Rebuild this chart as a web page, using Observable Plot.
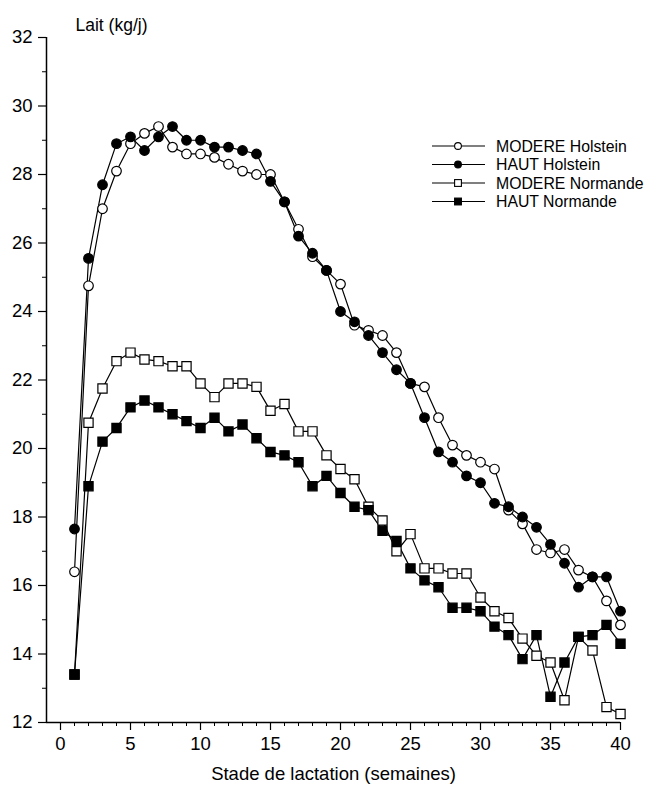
<!DOCTYPE html>
<html><head><meta charset="utf-8">
<script src="https://cdn.jsdelivr.net/npm/d3@7"></script>
<script src="https://cdn.jsdelivr.net/npm/@observablehq/plot@0.6"></script>
<style>
body{margin:0;background:#fff;}
#wrap{position:relative;width:663px;height:797px;font-family:"Liberation Sans",Arial,Helvetica,sans-serif;}
#legend{position:absolute;left:0;top:0;}
</style>
</head><body><div id="wrap"></div>
<script>
const weeks = [1,2,3,4,5,6,7,8,9,10,11,12,13,14,15,16,17,18,19,20,21,22,23,24,25,26,27,28,29,30,31,32,33,34,35,36,37,38,39,40];
const seriesNames = ["MODERE Holstein","HAUT Holstein","MODERE Normande","HAUT Normande"];
const moderHolstein = [16.4,24.75,27.0,28.1,28.9,29.2,29.4,28.8,28.6,28.6,28.5,28.3,28.1,28.0,28.0,27.2,26.4,25.6,25.2,24.8,23.6,23.45,23.3,22.8,21.9,21.8,20.9,20.1,19.8,19.6,19.4,18.2,17.8,17.05,16.95,17.05,16.45,16.25,15.55,14.85];
const hautHolstein = [17.65,25.55,27.7,28.9,29.1,28.7,29.1,29.4,29.0,29.0,28.8,28.8,28.7,28.6,27.8,27.2,26.2,25.7,25.2,24.0,23.7,23.3,22.8,22.3,21.9,20.9,19.9,19.6,19.2,19.0,18.4,18.3,18.0,17.7,17.2,16.65,15.95,16.25,16.25,15.25];
const moderNormande = [13.4,20.75,21.75,22.55,22.8,22.6,22.55,22.4,22.4,21.9,21.5,21.9,21.9,21.8,21.1,21.3,20.5,20.5,19.8,19.4,19.1,18.3,17.9,17.0,17.5,16.5,16.5,16.35,16.35,15.65,15.25,15.05,14.45,13.95,13.75,12.65,14.5,14.1,12.45,12.25];
const hautNormande = [13.4,18.9,20.2,20.6,21.2,21.4,21.2,21.0,20.8,20.6,20.9,20.5,20.7,20.3,19.9,19.8,19.6,18.9,19.2,18.7,18.3,18.2,17.6,17.3,16.5,16.15,15.95,15.35,15.35,15.25,14.8,14.55,13.85,14.55,12.75,13.75,14.5,14.55,14.85,14.3];
const majorXTicks = [0,5,10,15,20,25,30,35,40];
const majorYTicks = [12,14,16,18,20,22,24,26,28,30,32];
const yLabel = "Lait (kg/j)";
const xLabel = "Stade de lactation (semaines)";

const allSeries = [moderHolstein, hautHolstein, moderNormande, hautNormande];
const symbols = ["circle","circle","square","square"];
const fills = ["white","black","white","black"];
const radii = [4.8,4.8,5.2,5.2];

const data = [];
allSeries.forEach((vals, i) => vals.forEach((v, j) => data.push({series: seriesNames[i], idx: i, week: weeks[j], value: v})));

const font = "'Liberation Sans', Arial, Helvetica, sans-serif";
const bySeries = i => data.filter(d => d.idx === i);

const chart = Plot.plot({
  width: 663, height: 797,
  marginLeft: 46, marginRight: 43, marginTop: 37, marginBottom: 75,
  style: {fontFamily: font, background: "white", color: "black"},
  x: {domain: [-1, 40]},
  y: {domain: [12, 32]},
  marks: [
    Plot.axisX({ticks: majorXTicks, tickSize: 8, tickPadding: 6, fontSize: 18.5, label: null, strokeWidth: 1.2}),
    Plot.axisX({ticks: d3.range(0, 41, 1), tickSize: 4, text: null, label: null, strokeWidth: 1}),
    Plot.axisY({ticks: majorYTicks, tickSize: 8, tickPadding: 6, fontSize: 18.5, label: null, strokeWidth: 1.2}),
    Plot.axisY({ticks: d3.range(13, 32, 2), tickSize: 4, text: null, label: null, strokeWidth: 1}),
    Plot.ruleY([12], {strokeWidth: 1.5}),
    Plot.ruleX([-1], {strokeWidth: 1.5}),
    Plot.line(data, {x: "week", y: "value", z: "series", stroke: "black", strokeWidth: 1.2}),
    ...[0, 2, 1, 3].map(i => Plot.dot(bySeries(i), {x: "week", y: "value", symbol: symbols[i], r: radii[i], fill: fills[i], stroke: "black", strokeWidth: 1.2})),
    Plot.text([yLabel], {frameAnchor: "top-left", dx: 29, dy: -19, textAnchor: "start", fontSize: 17.5}),
    Plot.text([xLabel], {frameAnchor: "bottom", dy: 57, fontSize: 18.5})
  ]
});

const wrap = document.getElementById("wrap");
wrap.appendChild(chart);

// legend overlay
const lg = d3.select(wrap).append("svg").attr("id", "legend").attr("width", 663).attr("height", 797);
const rowY0 = 146, rowDy = 18.5, lineX0 = 432, lineX1 = 485, markX = 458, textX = 496;
seriesNames.forEach((name, i) => {
  const y = rowY0 + i * rowDy;
  const g = lg.append("g");
  g.append("line").attr("x1", lineX0).attr("x2", lineX1).attr("y1", y).attr("y2", y).attr("stroke", "black").attr("stroke-width", 1.2);
  if (symbols[i] === "circle") {
    g.append("circle").attr("cx", markX).attr("cy", y).attr("r", 3.4).attr("fill", fills[i]).attr("stroke", "black").attr("stroke-width", 1.1);
  } else {
    g.append("rect").attr("x", markX - 3.4).attr("y", y - 3.4).attr("width", 6.8).attr("height", 6.8).attr("fill", fills[i]).attr("stroke", "black").attr("stroke-width", 1.1);
  }
  g.append("text").attr("x", textX).attr("y", y).attr("dy", "0.35em").attr("font-size", 15.8).attr("font-family", font).text(name);
});
</script>
</body></html>
